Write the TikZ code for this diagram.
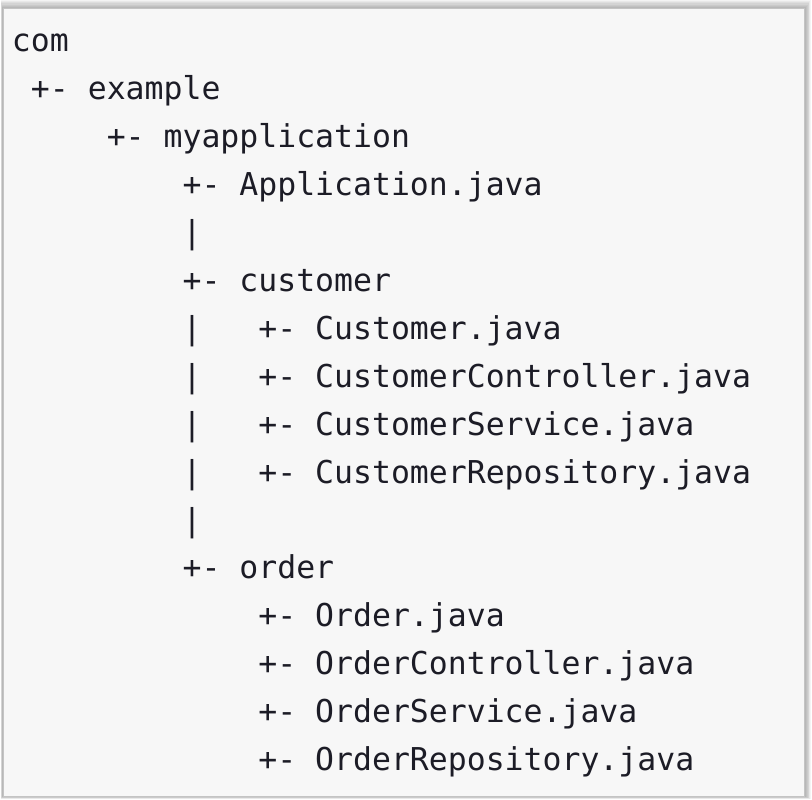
\documentclass[tikz,border=0pt]{standalone}
\usepackage{fontspec}
\newfontfamily\codefont{DejaVu Sans Mono}
\definecolor{codeink}{HTML}{1C1C26}
\definecolor{codebg}{HTML}{F7F7F7}
\definecolor{boxline}{HTML}{C4C4C4}
\newcommand\cw{18.95}
\newcommand\xo{12}
\newcommand\yo{52}
\newcommand\dy{47.9}
\newcommand\codeat[4]{\node[code] (#1) at ({\xo+#2*\cw},{\yo+#3*\dy}) {#4};}
\begin{document}
\begin{tikzpicture}[x=1pt,y=-1pt,
  code/.style={anchor=base west, inner sep=0pt, outer sep=0pt, text=codeink,
    font={\codefont\fontsize{31.48}{36}\selectfont}}]
\useasboundingbox (0,0) rectangle (812,800);
\fill[white] (0,0) rectangle (812,800);
% soft shadow
\foreach \i in {1,...,8} {
  \fill[black,opacity=0.045] ({3-0.3*\i},{9-1.1*\i}) rectangle ({804+0.9*\i},{796+0.4*\i});
}
\draw[draw=boxline, fill=codebg, line width=1pt] (3,9) rectangle (804,796);
% code lines
\codeat{l0}{0}{0}{com}
\codeat{l1}{1}{1}{+- example}
\codeat{l2}{5}{2}{+- myapplication}
\codeat{l3}{9}{3}{+- Application.java}
\codeat{l4}{9}{4}{|}
\codeat{l5}{9}{5}{+- customer}
\codeat{l6a}{9}{6}{|}
\codeat{l6}{13}{6}{+- Customer.java}
\codeat{l7a}{9}{7}{|}
\codeat{l7}{13}{7}{+- CustomerController.java}
\codeat{l8a}{9}{8}{|}
\codeat{l8}{13}{8}{+- CustomerService.java}
\codeat{l9a}{9}{9}{|}
\codeat{l9}{13}{9}{+- CustomerRepository.java}
\codeat{l10}{9}{10}{|}
\codeat{l11}{9}{11}{+- order}
\codeat{l12}{13}{12}{+- Order.java}
\codeat{l13}{13}{13}{+- OrderController.java}
\codeat{l14}{13}{14}{+- OrderService.java}
\codeat{l15}{13}{15}{+- OrderRepository.java}
\end{tikzpicture}
\end{document}
